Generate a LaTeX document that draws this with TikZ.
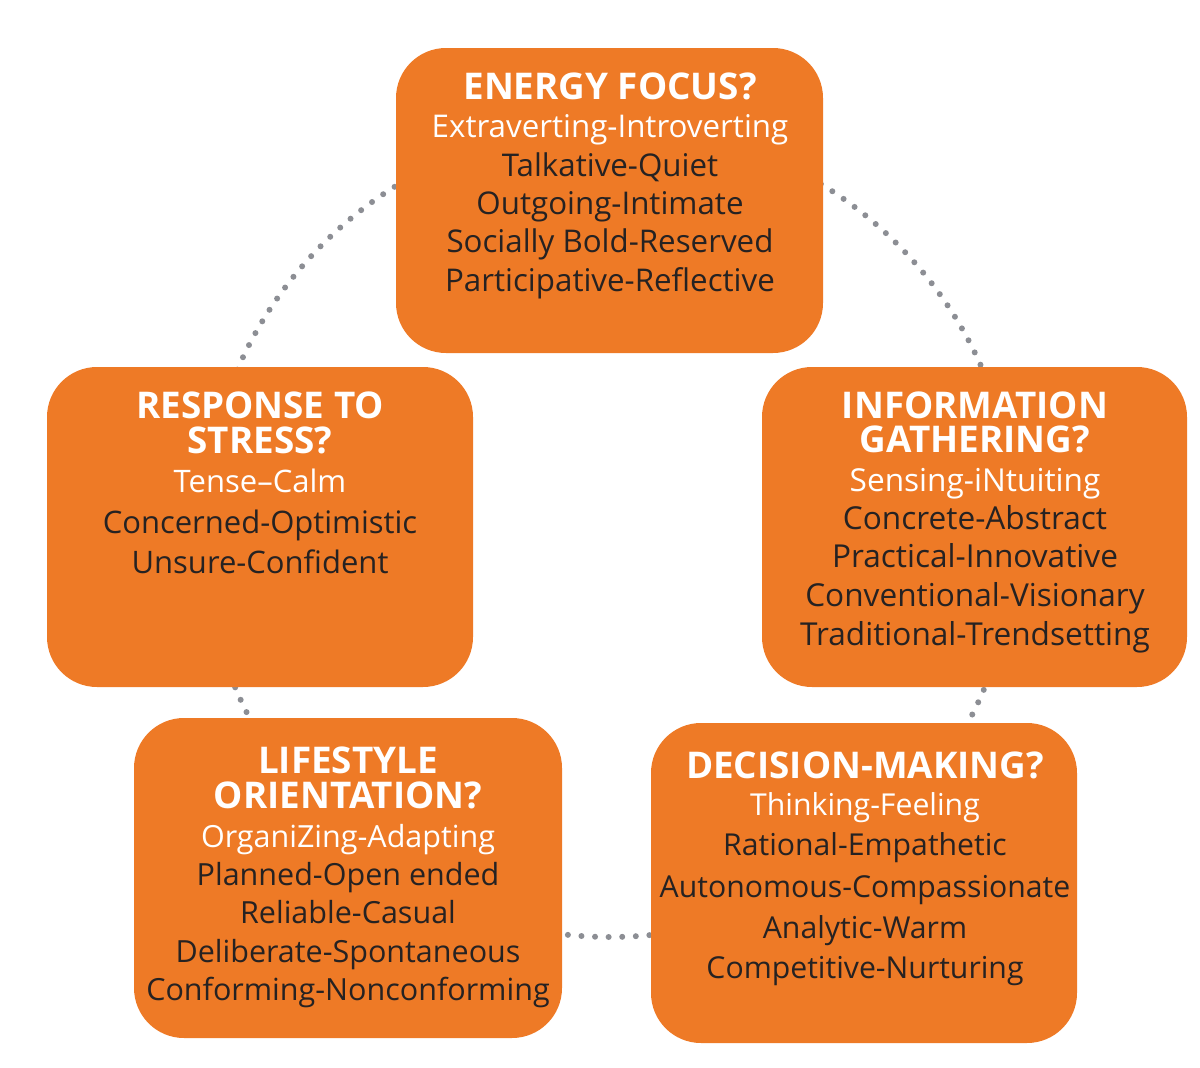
\documentclass[tikz,border=0pt]{standalone}
\usepackage{fontspec}
\setmainfont{Open Sans}
\definecolor{boxorange}{HTML}{EE7A26}
\definecolor{dotgray}{HTML}{8C8E94}
\definecolor{bodydark}{HTML}{262222}
\tikzset{
  catbox/.style={rectangle, rounded corners=50pt, fill=boxorange, draw=none,
    inner sep=0pt, outer sep=0pt, minimum width=#1},
  ttl/.style={anchor=base, text=white, font=\fontsize{36.8}{36.8}\selectfont\bfseries, inner sep=0pt},
  lead/.style={anchor=base, text=white, font=\fontsize{#1}{#1}\selectfont, inner sep=0pt},
  body/.style={anchor=base, text=bodydark, font=\fontsize{#1}{#1}\selectfont, inner sep=0pt},
  ring/.style={draw=dotgray, line width=6pt, line cap=round, dash pattern=on 0pt off 13.6pt}
}
\begin{document}
\begin{tikzpicture}[x=1pt,y=-1pt]
\useasboundingbox (0,0) rectangle (1200,1068);
\coordinate (ctr) at (610,531);
\draw[ring] (ctr) circle[radius=406];
% boxes
\node[catbox=427pt, minimum height=305pt] (energy) at (609.5,200.5) {};
\node[catbox=426pt, minimum height=320pt] (stress) at (260,527) {};
\node[catbox=425pt, minimum height=320pt] (info) at (974.5,527) {};
\node[catbox=428pt, minimum height=320pt] (life) at (348,878) {};
\node[catbox=426pt, minimum height=320pt] (decide) at (864,883) {};
% energy
\node[ttl] (e0) at (610,99) {ENERGY FOCUS?};
\node[lead=31.3] (e1) at (610,137) {Extraverting-Introverting};
\node[body=31.3] (e2) at (610,176) {Talkative-Quiet};
\node[body=31.3] (e3) at (610,214) {Outgoing-Intimate};
\node[body=31.3] (e4) at (610,252) {Socially Bold-Reserved};
\node[body=31.3] (e5) at (610,291) {Participative-Reflective};
% stress
\node[ttl] (s0) at (260,418) {RESPONSE TO};
\node[ttl] (s1) at (260,453) {STRESS?};
\node[lead=31] (s2) at (260,492) {Tense–Calm};
\node[body=31] (s3) at (260,533) {Concerned-Optimistic};
\node[body=31] (s4) at (260,573) {Unsure-Confident};
% info
\node[ttl] (i0) at (975,418) {INFORMATION};
\node[ttl] (i1) at (975,452) {GATHERING?};
\node[lead=31.6] (i2) at (975,491) {Sensing-iNtuiting};
\node[body=31.6] (i3) at (975,529) {Concrete-Abstract};
\node[body=31.6] (i4) at (975,567) {Practical-Innovative};
\node[body=31.6] (i5) at (975,606) {Conventional-Visionary};
\node[body=31.6] (i6) at (975,645) {Traditional-Trendsetting};
% lifestyle
\node[ttl] (l0) at (348,773) {LIFESTYLE};
\node[ttl] (l1) at (348,808) {ORIENTATION?};
\node[lead=30.5] (l2) at (348,847) {OrganiZing-Adapting};
\node[body=30.5] (l3) at (348,885) {Planned-Open ended};
\node[body=30.5] (l4) at (348,923) {Reliable-Casual};
\node[body=30.5] (l5) at (348,962) {Deliberate-Spontaneous};
\node[body=30.5] (l6) at (348,1000) {Conforming-Nonconforming};
% decision
\node[ttl] (d0) at (865,778) {DECISION-MAKING?};
\node[lead=30.2] (d1) at (865,815) {Thinking-Feeling};
\node[body=30.2] (d2) at (865,855) {Rational-Empathetic};
\node[body=30.2] (d3) at (865,897) {Autonomous-Compassionate};
\node[body=30.2] (d4) at (865,938) {Analytic-Warm};
\node[body=30.2] (d5) at (865,978) {Competitive-Nurturing};
\end{tikzpicture}
\end{document}
